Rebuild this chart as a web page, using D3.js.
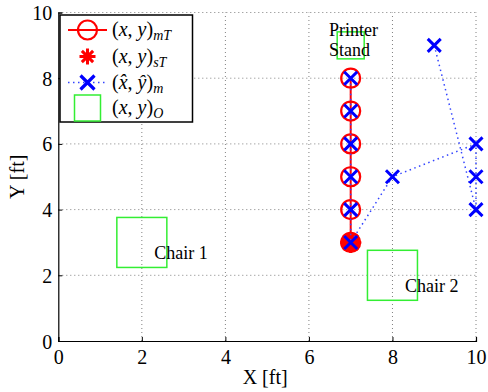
<!DOCTYPE html>
<html><head><meta charset="utf-8">
<script src="https://cdn.jsdelivr.net/npm/d3@7"></script>
<style>body{margin:0;background:#fff}svg{display:block}
svg text{font-family:"Liberation Serif","Times New Roman","DejaVu Serif",serif !important;}</style>
</head><body>
<svg id="c" width="488" height="392"></svg>
<script>
// ---- data ----
const xTicks = [0, 2, 4, 6, 8, 10];
const yTicks = [0, 2, 4, 6, 8, 10];
const trueX = [7, 7, 7, 7, 7, 7];
const trueY = [3, 4, 5, 6, 7, 8];
const startX = [7];
const startY = [3];
const measX = [9, 10, 10, 10, 8, 7, 7, 7, 7, 7, 7];
const measY = [9, 4, 5, 6, 5, 3, 4, 5, 6, 7, 8];
const obsNames = ["Chair 1", "Chair 2", "Printer"];
const obsX = [2, 8, 7];
const obsY = [3, 2, 9];
const labelLines = [["Chair 1"], ["Chair 2"], ["Printer", "Stand"]];
const labelX = [2.3, 8.3, 6.48];
const labelY = [2.5, 1.5, 9.27];

// ---- layout ----
const svg = d3.select("#c");
const L = 58.3, R = 476, T = 12.5, B = 341;
const x = d3.scaleLinear().domain([0, 10]).range([L, R]);
const y = d3.scaleLinear().domain([0, 10]).range([B, T]);
const RED = "#ff0000", BLUE = "#0000ff", GREEN = "#33ee33";

// grid
const g = svg.append("g");
g.selectAll(".gx").data(xTicks.filter(d => d > 0)).join("line")
  .attr("x1", d => x(d)).attr("x2", d => x(d)).attr("y1", B).attr("y2", T)
  .attr("stroke", "#808080").attr("stroke-width", 1).attr("stroke-dasharray", "1,3");
g.selectAll(".gy").data(yTicks.filter(d => d > 0)).join("line")
  .attr("y1", d => y(d)).attr("y2", d => y(d)).attr("x1", L).attr("x2", R)
  .attr("stroke", "#808080").attr("stroke-width", 1).attr("stroke-dasharray", "1,3");

// axes
const xAxis = d3.axisBottom(x).tickValues(xTicks).tickSize(-4).tickPadding(9).tickFormat(d3.format("d"));
const yAxis = d3.axisLeft(y).tickValues(yTicks).tickSize(-4).tickPadding(6).tickFormat(d3.format("d"));
const gx = svg.append("g").attr("transform", `translate(0,${B})`).call(xAxis);
const gy = svg.append("g").attr("transform", `translate(${L},0)`).call(yAxis);
[gx, gy].forEach(a => {
  a.select(".domain").attr("stroke", "#000").attr("stroke-width", 1.2);
  a.selectAll(".tick line").attr("stroke", "#000");
  a.selectAll("text").attr("font-size", 20).attr("fill", "#000");
});
gx.selectAll("text").attr("dy", "0.71em");
gy.selectAll("text").attr("dy", "0.35em");

svg.append("text").attr("x", (L + R) / 2 - 2).attr("y", 384)
  .attr("text-anchor", "middle").attr("font-size", 20).text("X [ft]");
svg.append("text").attr("transform", `translate(24,${(T + B) / 2}) rotate(-90)`)
  .attr("text-anchor", "middle").attr("font-size", 20).text("Y [ft]");

// obstacles (squares)
const obsSize = [50, 50, 27];
svg.selectAll(".obs").data(obsX.map((d, i) => ({ x: d, y: obsY[i], s: obsSize[i] }))).join("rect")
  .attr("x", d => x(d.x) - d.s / 2).attr("y", d => y(d.y) - d.s / 2)
  .attr("width", d => d.s).attr("height", d => d.s)
  .attr("fill", "none").attr("stroke", GREEN).attr("stroke-width", 1.5);

// obstacle labels
labelLines.forEach((lines, i) => {
  const t = svg.append("text").attr("font-size", 18)
    .attr("x", x(labelX[i])).attr("y", y(labelY[i]));
  lines.forEach((ln, j) => t.append("tspan").attr("x", x(labelX[i])).attr("dy", j ? 20 : 0).text(ln));
});

// true path
const line = d3.line().x(d => x(d[0])).y(d => y(d[1]));
const trueData = trueX.map((d, i) => [d, trueY[i]]);
svg.append("path").attr("d", line(trueData)).attr("fill", "none").attr("stroke", RED).attr("stroke-width", 2);
svg.selectAll(".tc").data(trueData).join("circle")
  .attr("cx", d => x(d[0])).attr("cy", d => y(d[1])).attr("r", 9.5)
  .attr("fill", "none").attr("stroke", RED).attr("stroke-width", 2.2);

// start asterisk
function asterisk(sel, cx, cy, r, w) {
  [0, 45, 90, 135].forEach(a => {
    const rad = a * Math.PI / 180;
    sel.append("line").attr("x1", cx - r * Math.cos(rad)).attr("y1", cy - r * Math.sin(rad))
      .attr("x2", cx + r * Math.cos(rad)).attr("y2", cy + r * Math.sin(rad))
      .attr("stroke", RED).attr("stroke-width", w).attr("stroke-linecap", "butt");
  });
}
startX.forEach((d, i) => {
  svg.append("circle").attr("cx", x(d)).attr("cy", y(startY[i])).attr("r", 9.5).attr("fill", RED);
  asterisk(svg.append("g"), x(d), y(startY[i]), 10.5, 3);
});

// measured path
const measData = measX.map((d, i) => [d, measY[i]]);
svg.append("path").attr("d", line(measData)).attr("fill", "none")
  .attr("stroke", "#3344ff").attr("stroke-width", 1.5).attr("stroke-dasharray", "1.5,3.5");
function cross(sel, cx, cy, h, w) {
  sel.append("path").attr("d", `M${cx - h},${cy - h}L${cx + h},${cy + h}M${cx - h},${cy + h}L${cx + h},${cy - h}`)
    .attr("stroke", BLUE).attr("stroke-width", w).attr("fill", "none");
}
measData.forEach(d => cross(svg, x(d[0]), y(d[1]), 6.5, 3));

// legend
const lg = svg.append("g");
lg.append("rect").attr("x", 60).attr("y", 15).attr("width", 132.5).attr("height", 107)
  .attr("fill", "#fff").attr("stroke", "#000").attr("stroke-width", 1.5);
const rows = [30, 56.5, 82.5, 108];
const sx = 87.5;
lg.append("line").attr("x1", 68).attr("x2", 107).attr("y1", rows[0]).attr("y2", rows[0]).attr("stroke", RED).attr("stroke-width", 2);
lg.append("circle").attr("cx", sx).attr("cy", rows[0]).attr("r", 9.5).attr("fill", "none").attr("stroke", RED).attr("stroke-width", 2.2);
lg.append("circle").attr("cx", sx).attr("cy", rows[1]).attr("r", 4).attr("fill", RED);
asterisk(lg, sx, rows[1], 8, 3);
lg.append("line").attr("x1", 68).attr("x2", 107).attr("y1", rows[2]).attr("y2", rows[2])
  .attr("stroke", "#3344ff").attr("stroke-width", 1.5).attr("stroke-dasharray", "1.5,3.5");
cross(lg, sx, rows[2], 7, 3.2);
lg.append("rect").attr("x", sx - 13).attr("y", rows[3] - 13).attr("width", 26).attr("height", 26)
  .attr("fill", "none").attr("stroke", GREEN).attr("stroke-width", 1.5);

const labels = [
  [["(", ""], ["x", "i"], [", ", ""], ["y", "i"], [")", ""], ["mT", "s"]],
  [["(", ""], ["x", "i"], [", ", ""], ["y", "i"], [")", ""], ["sT", "s"]],
  [["(", ""], ["x\u0302", "i"], [", ", ""], ["y\u0302", "i"], [")", ""], ["m", "s"]],
  [["(", ""], ["x", "i"], [", ", ""], ["y", "i"], [")", ""], ["O", "s"]]
];
labels.forEach((parts, i) => {
  const t = lg.append("text").attr("x", 112).attr("y", rows[i] + 6).attr("font-size", 20);
  parts.forEach(p => {
    const ts = t.append("tspan").text(p[0]);
    if (p[1] === "i") ts.attr("font-style", "italic");
    if (p[1] === "s") ts.attr("font-style", "italic").attr("font-size", 14).attr("dy", 4);
  });
});
</script>
</body></html>
